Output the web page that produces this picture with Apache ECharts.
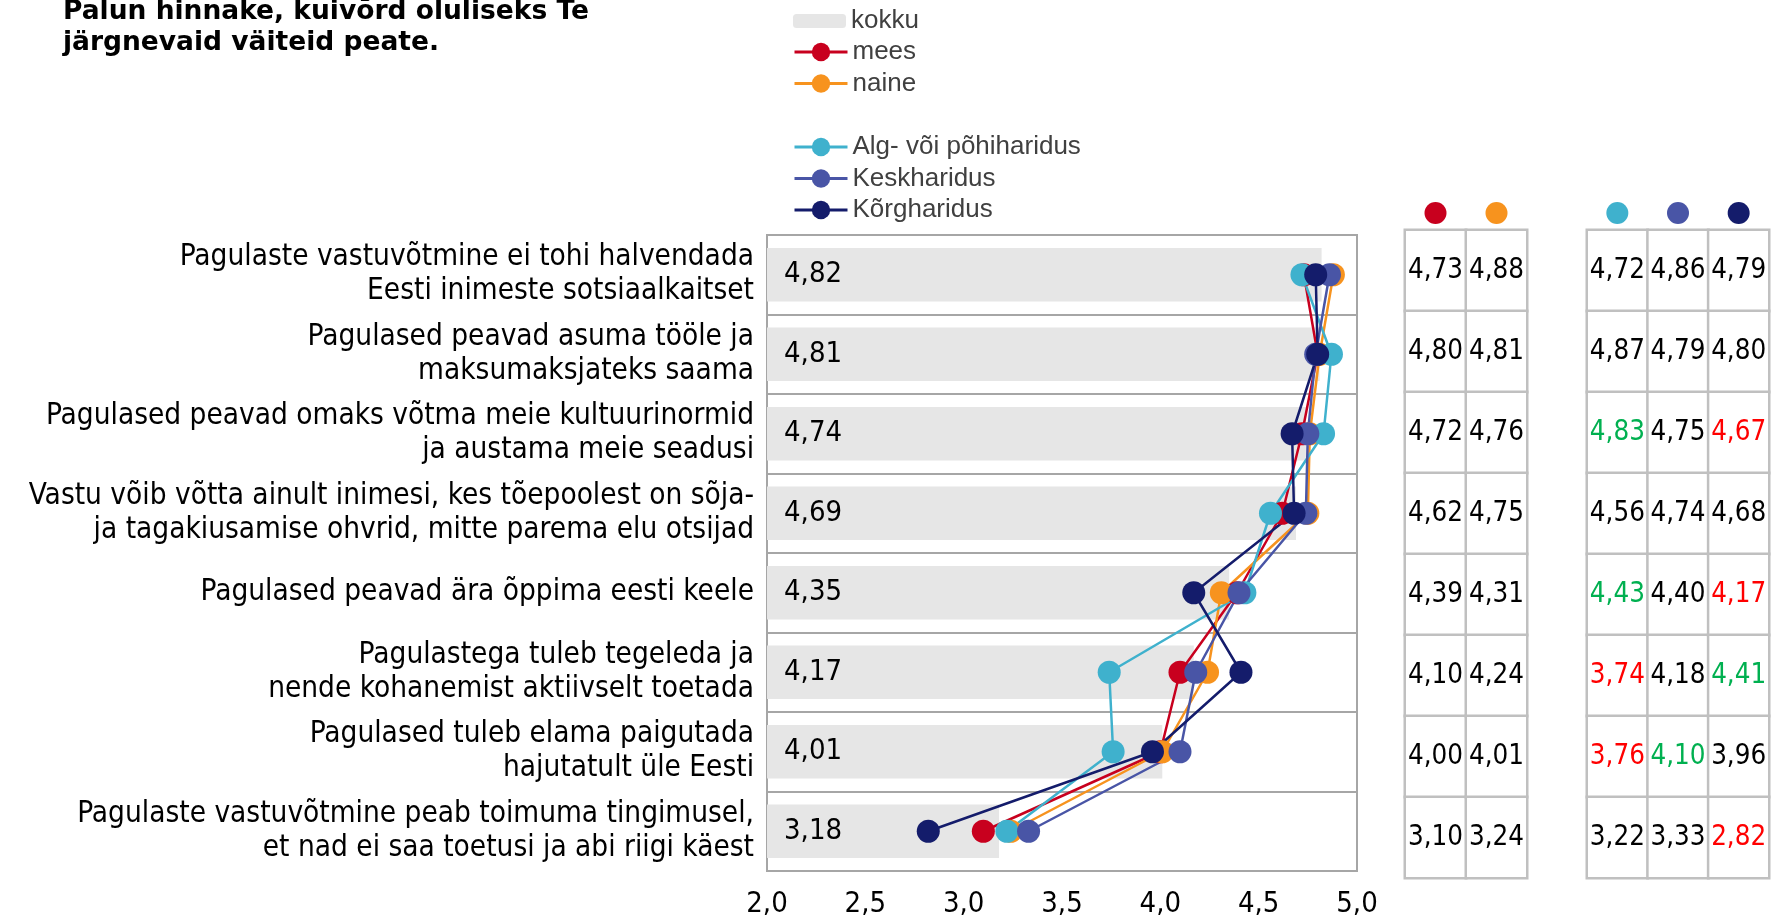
<!DOCTYPE html>
<html>
<head>
<meta charset="utf-8">
<script src="https://cdn.jsdelivr.net/npm/echarts@6/dist/echarts.min.js"></script>
<style>
  html, body { margin: 0; padding: 0; background: #fff; }
  #chart { width: 1777px; height: 920px; }
</style>
</head>
<body>
<div id="chart"></div>
<script>
const categories = [
  'Pagulaste vastuvõtmine ei tohi halvendada\nEesti inimeste sotsiaalkaitset',
  'Pagulased peavad asuma tööle ja\nmaksumaksjateks saama',
  'Pagulased peavad omaks võtma meie kultuurinormid\nja austama meie seadusi',
  'Vastu võib võtta ainult inimesi, kes tõepoolest on sõja-\nja tagakiusamise ohvrid, mitte parema elu otsijad',
  'Pagulased peavad ära õppima eesti keele',
  'Pagulastega tuleb tegeleda ja\nnende kohanemist aktiivselt toetada',
  'Pagulased tuleb elama paigutada\nhajutatult üle Eesti',
  'Pagulaste vastuvõtmine peab toimuma tingimusel,\net nad ei saa toetusi ja abi riigi käest'
]

const kokku = [4.82, 4.81, 4.74, 4.69, 4.35, 4.17, 4.01, 3.18]
const mees = [4.73, 4.80, 4.72, 4.62, 4.39, 4.10, 4.00, 3.10]
const naine = [4.88, 4.81, 4.76, 4.75, 4.31, 4.24, 4.01, 3.24]
const alg = [4.72, 4.87, 4.83, 4.56, 4.43, 3.74, 3.76, 3.22]
const kesk = [4.86, 4.79, 4.75, 4.74, 4.40, 4.18, 4.10, 3.33]
const korg = [4.79, 4.80, 4.67, 4.68, 4.17, 4.41, 3.96, 2.82]

// 1 = oluliselt kõrgem (roheline), -1 = oluliselt madalam (punane)
const algSig = [0, 0, 1, 0, 1, -1, -1, 0]
const keskSig = [0, 0, 0, 0, 0, 0, 1, 0]
const korgSig = [0, 0, -1, 0, -1, 1, 0, -1]

const xTicks = [2.0, 2.5, 3.0, 3.5, 4.0, 4.5, 5.0]

const titleText = 'Palun hinnake, kuivõrd oluliseks Te\njärgnevaid väiteid peate.'

const COLORS = {
  mees : '#c8001e',
  naine : '#f7931e',
  alg : '#3fb1cd',
  kesk : '#4955a6',
  korg : '#141c6b'
}
const SIG_COLOR = { '1' : '#00b050', '-1' : '#ff0000', '0' : '#000000' }
const COND = 'DejaVu Sans Condensed'

const fmt = ( v, d ) => v.toFixed( d ).replace( '.', ',' )

const lineSeries = ( name, key, data ) => ( {
  name,
  type : 'line',
  xAxisIndex : 0,
  yAxisIndex : 0,
  data,
  symbol : 'circle',
  symbolSize : 23,
  color : COLORS[key],
  lineStyle : { width : 2.5, color : COLORS[key] },
  itemStyle : { color : COLORS[key] },
  emphasis : { disabled : true },
  z : 3
} )

const tableCells = ( cols, sigs ) => {
  const out = []
  cols.forEach( ( col, ci ) => {
    col.forEach( ( v, ri ) => {
      out.push( {
        value : [ci, ri, v],
        label : { color : SIG_COLOR[String( sigs ? sigs[ci][ri] : 0 )] }
      } )
    } )
  } )
  return out
}

const dotRich = {}
Object.keys( COLORS ).forEach( k => {
  dotRich[k] = { width : 22, height : 22, borderRadius : 11, backgroundColor : COLORS[k] }
} )

const tableAxes = ( gi, keys ) => ( {
  x : {
    type : 'category',
    gridIndex : gi,
    position : 'top',
    data : keys,
    axisLine : { show : false },
    axisTick : { show : false },
    splitLine : { show : false },
    axisLabel : { margin : 6, formatter : v => '{' + v + '| }', rich : dotRich }
  },
  y : {
    type : 'category',
    gridIndex : gi,
    inverse : true,
    data : categories,
    axisLine : { show : false },
    axisTick : { show : false },
    axisLabel : { show : false },
    splitLine : { show : false }
  }
} )

const heatSeries = ( gi, data ) => ( {
  type : 'heatmap',
  xAxisIndex : gi,
  yAxisIndex : gi,
  data,
  itemStyle : { color : '#ffffff', borderColor : '#c0c0c0', borderWidth : 2.5 },
  label : {
    show : true,
    fontFamily : COND,
    fontSize : 27.5,
    formatter : p => fmt( p.value[2], 2 )
  },
  emphasis : { disabled : true }
} )

const chart = echarts.init( document.getElementById( 'chart' ) )

const t1 = tableAxes( 1, ['mees', 'naine'] )
const t2 = tableAxes( 2, ['alg', 'kesk', 'korg'] )

const legendText = { fontFamily : 'Liberation Sans', fontSize : 26, lineHeight : 26, color : '#404040' }

chart.setOption( {
  backgroundColor : '#ffffff',
  animation : false,
  graphic : [
    {
      type : 'text',
      left : 63,
      top : -3,
      style : {
        text : titleText,
        fontFamily : 'DejaVu Sans',
        fontWeight : 'bold',
        fontSize : 26.5,
        lineHeight : 31,
        fill : '#000'
      }
    }
  ],
  legend : [
    {
      orient : 'vertical',
      left : 793,
      top : 8,
      padding : 0,
      itemWidth : 53,
      itemHeight : 14,
      itemGap : 5,
      textStyle : legendText,
      selectedMode : false,
      data : ['kokku']
    },
    {
      orient : 'vertical',
      left : 793,
      top : 39,
      padding : 0,
      itemWidth : 53,
      itemHeight : 23,
      itemGap : 5.5,
      textStyle : legendText,
      lineStyle : { width : 3 },
      selectedMode : false,
      data : ['mees', 'naine']
    },
    {
      orient : 'vertical',
      left : 793,
      top : 134,
      padding : 0,
      itemWidth : 53,
      itemHeight : 23,
      itemGap : 5.5,
      textStyle : legendText,
      lineStyle : { width : 3 },
      selectedMode : false,
      data : ['Alg- või põhiharidus', 'Keskharidus', 'Kõrgharidus']
    }
  ],
  grid : [
    { left : 767, top : 235, width : 590, height : 636, show : true, borderColor : '#a6a6a6', borderWidth : 2, backgroundColor : 'transparent' },
    { left : 1405, top : 230, width : 122, height : 648 },
    { left : 1587, top : 230, width : 182, height : 648 }
  ],
  xAxis : [
    {
      type : 'value',
      gridIndex : 0,
      min : xTicks[0],
      max : xTicks[xTicks.length - 1],
      interval : 0.5,
      axisLine : { show : false },
      axisTick : { show : false },
      splitLine : { show : false },
      axisLabel : {
        margin : 19,
        fontFamily : COND,
        fontSize : 29,
        color : '#000',
        formatter : v => fmt( v, 1 )
      }
    },
    t1.x,
    t2.x
  ],
  yAxis : [
    {
      type : 'category',
      gridIndex : 0,
      inverse : true,
      data : categories,
      axisLine : { show : false },
      axisTick : { show : false },
      splitLine : { show : true, interval : 0, lineStyle : { color : '#a6a6a6', width : 2 } },
      axisLabel : {
        margin : 13,
        interval : 0,
        fontFamily : COND,
        fontSize : 29.5,
        lineHeight : 34,
        color : '#000',
        align : 'right'
      }
    },
    t1.y,
    t2.y
  ],
  series : [
    {
      name : 'kokku',
      type : 'bar',
      xAxisIndex : 0,
      yAxisIndex : 0,
      data : kokku,
      barCategoryGap : '33%',
      color : '#e6e6e6',
      itemStyle : { color : '#e6e6e6' },
      emphasis : { disabled : true },
      label : {
        show : true,
        position : 'insideLeft',
        distance : 17,
        fontFamily : COND,
        fontSize : 29,
        color : '#000',
        formatter : p => fmt( p.value, 2 )
      },
      z : 1
    },
    lineSeries( 'mees', 'mees', mees ),
    lineSeries( 'naine', 'naine', naine ),
    lineSeries( 'Alg- või põhiharidus', 'alg', alg ),
    lineSeries( 'Keskharidus', 'kesk', kesk ),
    lineSeries( 'Kõrgharidus', 'korg', korg ),
    heatSeries( 1, tableCells( [mees, naine], null ) ),
    heatSeries( 2, tableCells( [alg, kesk, korg], [algSig, keskSig, korgSig] ) )
  ]
} )
</script>
</body>
</html>
